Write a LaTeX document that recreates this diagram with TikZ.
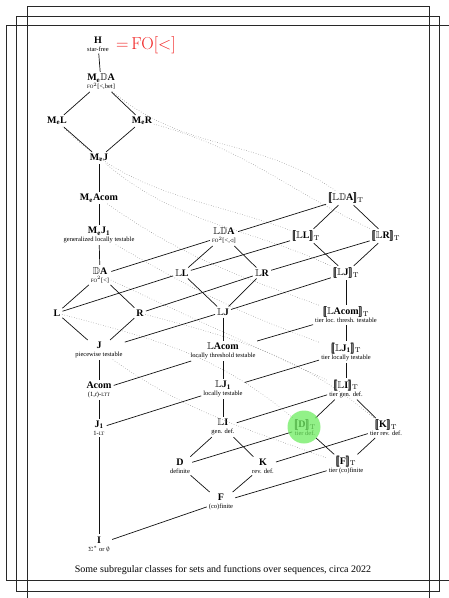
\documentclass[tikz,border=0pt]{standalone}
\usepackage[no-math]{fontspec}
\setmainfont{Liberation Serif}
\usepackage{amsmath}
\usepackage{amssymb}
\usepackage{stmaryrd}
\usepackage{tikz}
\usepackage{xcolor}
\usetikzlibrary{arrows}
\usetikzlibrary{positioning}

\newcommand{\subl}[1]{{\fontsize{6.5}{7}\selectfont\mdseries #1}}
\newcommand{\smcaps}[1]{{\fontsize{5}{5}\selectfont #1}}
\newcommand{\bb}[1]{$\mathbb{#1}$}
\newcommand{\tier}[1]{$\pmb{\llbracket}$#1$\pmb{\rrbracket}_{\mathrm{T}}$}
\newcommand{\Me}{M\textsubscript{e}}

\tikzset{
	cls/.style={align=center, inner sep=1.5pt, font=\fontsize{10}{8}\selectfont\bfseries},
	link/.style={draw=ALMOST_BLACK, line width=0.7pt, shorten <=0.5pt, shorten >=0.5pt},
	corr/.style={draw=DOT_GRAY, line width=0.5pt, dotted},
	frame/.style={draw=FRAME_GRAY, line width=0.8pt}
}

\begin{document}
\begin{tikzpicture}[x=1pt, y=-1pt]
				\definecolor{ALMOST_BLACK}{RGB}{18, 18, 18}
				\definecolor{FRAME_GRAY}{RGB}{40, 40, 40}
				\definecolor{DOT_GRAY}{RGB}{125, 125, 125}
				\definecolor{FO_RED}{RGB}{240, 30, 30}
				\definecolor{HIGHLIGHT}{RGB}{110, 236, 96}
				\useasboundingbox (0, 0) rectangle (448, 598);

				\begin{scope}[frame]
					\draw (27, 6) rectangle (429, 620);
					\draw (16, 16) rectangle (439, 591);
					\draw (6, 25) rectangle (470, 580);
				\end{scope}

				\node[cls] (H) at (98, 44) {H\\\subl{star-free}};
				\node[anchor=west, inner sep=0pt, text=FO_RED] (fo) at (116, 45) {\fontsize{18}{18}\selectfont${=}\,\mathrm{FO}[<]$};
				\node[cls] (MeDA) at (101, 82) {\Me\bb{D}A\\\subl{\smcaps{FO}$^2$[<,bet]}};
				\node[cls] (MeL) at (57, 121) {\Me L};
				\node[cls] (MeR) at (142, 121) {\Me R};
				\node[cls] (MeJ) at (99, 158) {\Me J};
				\node[cls] (MeAcom) at (99, 198) {\Me Acom};
				\node[cls] (MeJ1) at (99, 235) {\Me J\textsubscript{1}\\\subl{generalized locally testable}};
				\node[cls] (DA) at (100, 275) {\bb{D}A\\\subl{\smcaps{FO}$^2$[<]}};
				\node[cls] (L) at (57, 313) {L};
				\node[cls] (R) at (140, 313) {R};
				\node[cls] (J) at (99, 350) {J\\\subl{piecewise testable}};
				\node[cls] (Acom) at (99, 390) {Acom\\\subl{(1,\textit{t})-\smcaps{LTT}}};
				\node[cls] (J1) at (99, 428) {J\textsubscript{1}\\\subl{1-\smcaps{LT}}};
				\node[cls] (I) at (99, 544) {I\\\subl{$\Sigma^*$ or $\emptyset$}};

				\node[cls] (LDA) at (224, 236) {\bb{L}\bb{D}A\\\subl{\smcaps{FO}$^2$[<,$\triangleleft$]}};
				\node[cls] (LL) at (182, 273) {\bb{L}L};
				\node[cls] (LR) at (262, 273) {\bb{L}R};
				\node[cls] (LJ) at (223, 312) {\bb{L}J};
				\node[cls] (LAcom) at (223, 351) {\bb{L}Acom\\\subl{locally threshold testable}};
				\node[cls] (LJ1) at (223, 389) {\bb{L}J\textsubscript{1}\\\subl{locally testable}};
				\node[cls] (LI) at (223, 427) {\bb{L}I\\\subl{gen. def.}};
				\node[cls] (D) at (180, 466) {D\\\subl{definite}};
				\node[cls] (K) at (263, 466) {K\\\subl{rev. def.}};
				\node[cls] (F) at (221, 502) {F\\\subl{(co)finite}};

				\node[cls] (TLDA) at (346, 198) {\tier{\bb{L}\bb{D}A}};
				\node[cls] (TLL) at (306, 236) {\tier{\bb{L}L}};
				\node[cls] (TLR) at (386, 236) {\tier{\bb{L}R}};
				\node[cls] (TLJ) at (346, 273) {\tier{\bb{L}J}};
				\node[cls] (TLAcom) at (346, 315) {\tier{\bb{L}Acom}\\\subl{tier loc. thresh. testable}};
				\node[cls] (TLJ1) at (346, 352) {\tier{\bb{L}J\textsubscript{1}}\\\subl{tier locally testable}};
				\node[cls] (TLI) at (346, 389) {\tier{\bb{L}I}\\\subl{tier gen. def.}};
				\node[cls] (TD) at (305, 428) {\tier{D}\\\subl{tier def.}};
				\node[cls] (TK) at (386, 428) {\tier{K}\\\subl{tier rev. def.}};
				\node[cls] (TF) at (346, 465) {\tier{F}\\\subl{tier (co)finite}};

				\node (caption) at (223, 570) {Some subregular classes for sets and functions over sequences, circa 2022};

				\draw[corr] (MeDA) to[out=-40, in=145] (TLDA);
				\draw[corr] (MeL) to[out=-45, in=160] (TLL);
				\draw[corr] (MeR) to[out=-15, in=155] (TLR);
				\draw[corr] (MeJ) to[out=-40, in=155] (TLJ);
				\draw[corr] (MeAcom) to[out=-35, in=160] (TLAcom);
				\draw[corr] (MeJ1) to[out=-30, in=160] (TLJ1);
				\draw[corr] (DA) to[out=-25, in=155] (TLI);
				\draw[corr] (L) to[out=-15, in=140] (TD);
				\draw[corr] (R) to[out=-15, in=140] (TK);
				\draw[corr] (J) to[out=-35, in=160] (TF);

				\draw[link] (H) -- (MeDA);
				\draw[link] (MeDA) -- (MeL);
				\draw[link] (MeDA) -- (MeR);
				\draw[link] (MeL) -- (MeJ);
				\draw[link] (MeR) -- (MeJ);
				\draw[link] (MeJ) -- (MeAcom);
				\draw[link] (MeAcom) -- (MeJ1);
				\draw[link] (MeJ1) -- (DA);
				\draw[link] (DA) -- (L);
				\draw[link] (DA) -- (R);
				\draw[link] (L) -- (J);
				\draw[link] (R) -- (J);
				\draw[link] (J) -- (Acom);
				\draw[link] (Acom) -- (J1);
				\draw[link] (J1) -- (I);

				\draw[link] (LDA) -- (LL);
				\draw[link] (LDA) -- (LR);
				\draw[link] (LL) -- (LJ);
				\draw[link] (LR) -- (LJ);
				\draw[link] (LJ) -- (LAcom);
				\draw[link] (LAcom) -- (LJ1);
				\draw[link] (LJ1) -- (LI);
				\draw[link] (LI) -- (D);
				\draw[link] (LI) -- (K);
				\draw[link] (D) -- (F);
				\draw[link] (K) -- (F);

				\draw[link] (TLDA) -- (TLL);
				\draw[link] (TLDA) -- (TLR);
				\draw[link] (TLL) -- (TLJ);
				\draw[link] (TLR) -- (TLJ);
				\draw[link] (TLJ) -- (TLAcom);
				\draw[link] (TLAcom) -- (TLJ1);
				\draw[link] (TLJ1) -- (TLI);
				\draw[link] (TLI) -- (TD);
				\draw[link] (TLI) -- (TK);
				\draw[link] (TD) -- (TF);
				\draw[link] (TK) -- (TF);

				\draw[link] (DA) -- (LDA);
				\draw[link] (L) -- (LL);
				\draw[link] (R) -- (LR);
				\draw[link] (J) -- (LJ);
				\draw[link] (Acom) -- (LAcom);
				\draw[link] (J1) -- (LJ1);
				\draw[link] (I) -- (F);

				\draw[link] (LDA) -- (TLDA);
				\draw[link] (LL) -- (TLL);
				\draw[link] (LR) -- (TLR);
				\draw[link] (LJ) -- (TLJ);
				\draw[link] (LAcom) -- (TLAcom);
				\draw[link] (LJ1) -- (TLJ1);
				\draw[link] (LI) -- (TLI);
				\draw[link] (D) -- (TD);
				\draw[link] (K) -- (TK);
				\draw[link] (F) -- (TF);

				\fill[HIGHLIGHT, fill opacity=0.75] (TD) ++(-1, -1) circle (16.5pt);
			\end{tikzpicture}
\end{document}
